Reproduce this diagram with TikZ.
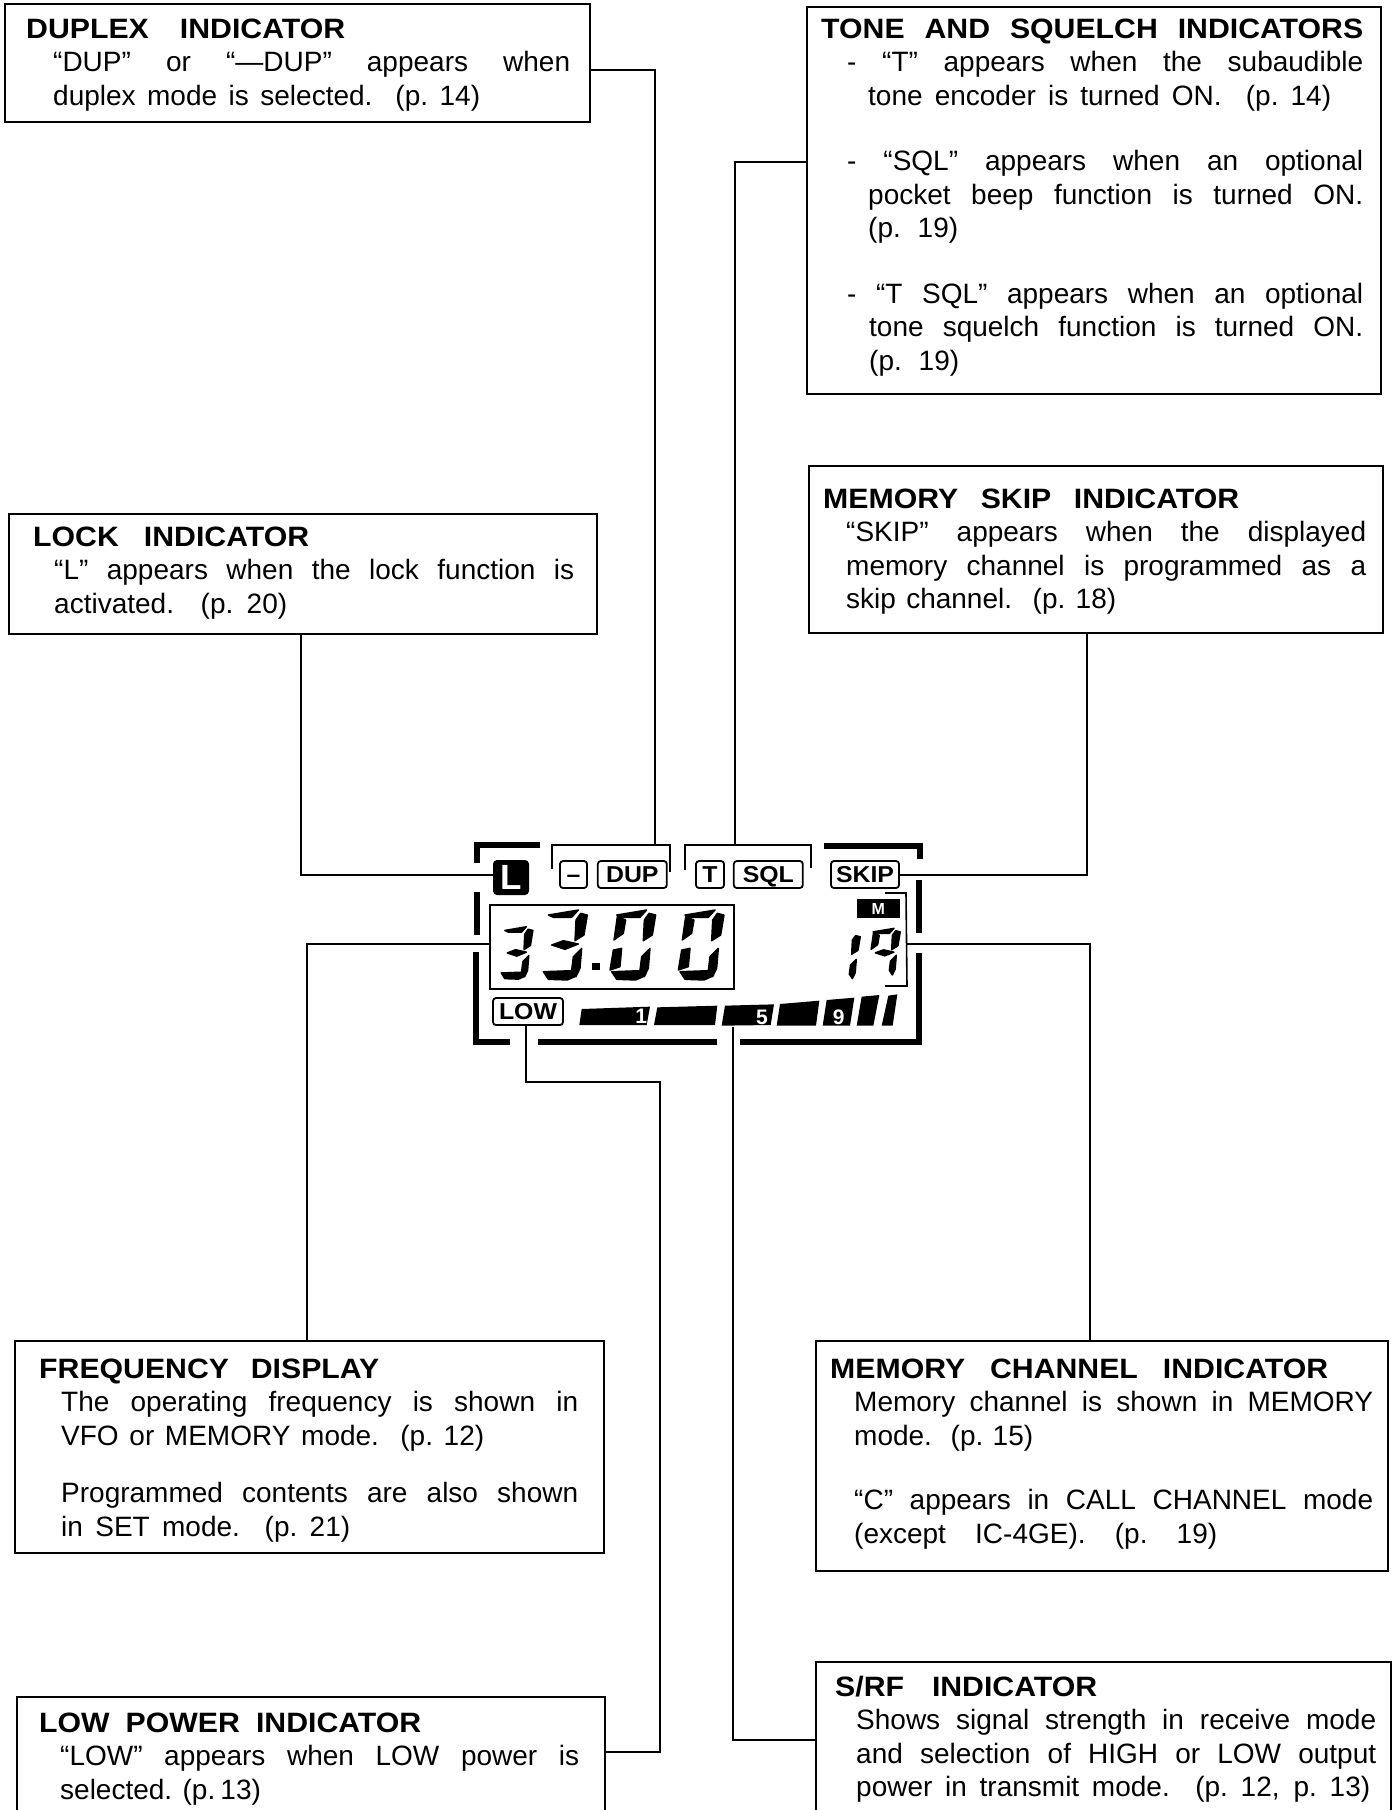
\documentclass[tikz,border=0pt]{standalone}
\usepackage{fontspec}
\setmainfont{Liberation Sans}
\newfontfamily\headfont[FakeStretch=1.08]{Liberation Sans}
\usetikzlibrary{positioning}
\newcommand{\pg}[1]{(p.\ #1)}
\newcommand{\tline}[3]{\hbox{\hskip\dimexpr#1pt/2\relax\makebox[\dimexpr#2pt/2\relax][s]{#3}}}
\newcommand{\headline}[3]{\tline{#1}{#2}{\headfont\bfseries #3}}
\newcommand{\gap}[1]{\vskip\dimexpr#1pt/2\relax}
\newcommand{\panelbody}[4]{\vbox to #2{\lineskiplimit=-\maxdimen
  \hbox to #1{\hfil}\vskip\dimexpr#3-\baselineskip\relax #4\vfill}}
% LCD segments of one digit
\newcommand{\segA}{\filldraw (20,15) -- (110,0) -- (90,22) -- (35,22) -- cycle;}
\newcommand{\segB}{\filldraw (117,10) -- (137,15) -- (127,75) -- (100,92) -- (103,30) -- cycle;}
\newcommand{\segC}{\filldraw (120,115) -- (115,175) -- (103,200) -- (90,180) -- (95,140) -- cycle;}
\newcommand{\segD}{\filldraw (5,185) -- (90,182) -- (100,200) -- (77,210) -- (20,208) -- cycle;}
\newcommand{\segE}{\filldraw (10,120) -- (35,115) -- (30,170) -- (0,180) -- cycle;}
\newcommand{\segF}{\filldraw (22,20) -- (47,30) -- (40,70) -- (12,90) -- cycle;}
\newcommand{\segG}{\filldraw (30,105) -- (65,92) -- (110,102) -- (70,118) -- cycle;}
\newcommand{\lcddigit}[5]{\begin{scope}[shift={(#1,#2)},xscale=#3,yscale=#4,line width=0.7pt,line join=round]
  \foreach \s in {#5} {\csname seg\s\endcsname}
  \end{scope}}
\tikzset{
  panel/.style={draw, line width=1.2pt, anchor=north west, inner sep=0pt, fill=white,
    font=\fontsize{14}{16.75}\selectfont},
  wire/.style={line width=1pt},
  frame/.style={line width=3pt},
  thinline/.style={line width=0.8pt},
  tag/.style={draw, line width=0.9pt, rounded corners=1.5pt, inner sep=0pt, minimum height=13.5pt,
    text height=8.3pt, text depth=0pt, font=\fontsize{11.5}{13}\selectfont\headfont\bfseries},
  barlabel/.style={inner sep=0pt, text=white, font=\bfseries\fontsize{10.5}{11}\selectfont},
}
\begin{document}
\begin{tikzpicture}[x=0.5pt,y=-0.5pt]
  \useasboundingbox (0,0) rectangle (1397,1810);
  \clip (0,0) rectangle (1397,1810);

  % Define nodes
  \node[panel] (duplex) at (4,3) {\panelbody{292.5pt}{59pt}{17pt}{
    \headline{21}{319}{DUPLEX INDICATOR}
    \tline{48}{517}{“DUP” or “—DUP” appears when}
    \tline{48}{427}{duplex mode is selected.\ \ \pg{14}}}};
  \node[panel] (tone) at (806,6) {\panelbody{287pt}{193.5pt}{15.5pt}{
    \headline{14}{542}{TONE AND SQUELCH INDICATORS}
    \tline{40}{516}{- “T” appears when the subaudible}
    \tline{61}{463}{tone encoder is turned ON.\ \ \pg{14}}
    \gap{32}
    \tline{40}{516}{- “SQL” appears when an optional}
    \tline{61}{495}{pocket beep function is turned ON.}
    \tline{61}{90}{\pg{19}}
    \gap{32}
    \tline{40}{516}{- “T SQL” appears when an optional}
    \tline{62}{494}{tone squelch function is turned ON.}
    \tline{62}{90}{\pg{19}}}};
  \node[panel] (skip) at (808,465) {\panelbody{287pt}{83.5pt}{21pt}{
    \headline{14}{416}{MEMORY SKIP INDICATOR}
    \tline{37}{520}{“SKIP” appears when the displayed}
    \tline{37}{520}{memory channel is programmed as a}
    \tline{37}{270}{skip channel.\ \ \pg{18}}}};
  \node[panel] (lock) at (8,513) {\panelbody{294pt}{60pt}{16pt}{
    \headline{24}{276}{LOCK INDICATOR}
    \tline{45}{520}{“L” appears when the lock function is}
    \tline{45}{233}{activated.\ \ \pg{20}}}};
  \node[panel] (freq) at (14,1340) {\panelbody{294.5pt}{106pt}{18.5pt}{
    \headline{24}{340}{FREQUENCY DISPLAY}
    \tline{46}{517}{The operating frequency is shown in}
    \tline{46}{423}{VFO or MEMORY mode.\ \ \pg{12}}
    \gap{24}
    \tline{46}{517}{Programmed contents are also shown}
    \tline{46}{289}{in SET mode.\ \ \pg{21}}}};
  \node[panel] (low) at (16,1696) {\panelbody{294pt}{70pt}{17.5pt}{
    \headline{22}{382}{LOW POWER INDICATOR}
    \tline{43}{519}{“LOW” appears when LOW power is}
    \tline{43}{196}{selected.\ \ \pg{13}}}};
  \node[panel] (mem) at (815,1340) {\panelbody{286pt}{115pt}{18.5pt}{
    \headline{14}{498}{MEMORY CHANNEL INDICATOR}
    \tline{38}{519}{Memory channel is shown in MEMORY}
    \tline{38}{179}{mode.\ \ \pg{15}}
    \gap{31}
    \tline{38}{519}{“C” appears in CALL CHANNEL mode}
    \tline{38}{363}{(except IC-4GE).\ \pg{19}}}};
  \node[panel] (srf) at (815,1661) {\panelbody{287.5pt}{85pt}{17pt}{
    \headline{19}{262}{S/RF INDICATOR}
    \tline{40}{520}{Shows signal strength in receive mode}
    \tline{40}{520}{and selection of HIGH or LOW output}
    \tline{40}{514}{power in transmit mode.\ \ (p.\ 12, p.\ 13)}}};

  % LCD tags
  \node[tag, minimum width=13.5pt] (dash) at (573.5,874.5) {–};
  \node[tag, minimum width=34.5pt, right=4.5pt of dash] (dup) {DUP};
  \node[tag, minimum width=14pt] (tee) at (710,874.5) {T};
  \node[tag, minimum width=34.5pt, right=4pt of tee] (sql) {SQL};
  \node[tag, minimum width=34pt] (skiptag) at (865,874.5) {SKIP};
  \node[tag, minimum width=35pt] (lowtag) at (528,1011.5) {LOW};
  \node[fill=black, rounded corners=2pt, minimum width=18pt, minimum height=17.5pt, inner sep=0pt,
    text=white, font=\bfseries\fontsize{17.5}{18}\selectfont] (ltag) at (511,877.5) {L};
  \node[draw, thinline, minimum width=122pt, minimum height=42pt, inner sep=0pt] (lcdfreq) at (612,947) {};

  \coordinate (dupbend) at (655,845);
  \coordinate (sqlbend) at (735,845);
  \coordinate (chantap) at (907,944);
  \coordinate (bartap) at (733,1027);
  \coordinate (lowbend) at (660,1082);

  % LCD frame and brackets
  \draw[frame] (477,863) -- (477,845) -- (540,845);
  \draw[frame] (477,892) -- (477,935);
  \draw[frame] (476,952) -- (476,1042) -- (510,1042);
  \draw[frame] (538,1042) -- (717,1042);
  \draw[frame] (740,1042) -- (919,1042) -- (919,953);
  \draw[frame] (919,933) -- (919,880);
  \draw[frame] (824,846) -- (920,846) -- (920,859);
  \draw[thinline] (552,869) -- (552,845) -- (670,845) -- (670,872);
  \draw[thinline] (685,870) -- (685,845) -- (811,845) -- (811,868);
  \draw[thinline] (885,893) -- (906,893) -- (907,986) -- (885,986);

  % LCD digits and S meter
  \begin{scope}[shift={(450,820)},scale=1/3]
    \lcddigit{150}{320}{.72}{.75}{A,B,C,D,G}
    \lcddigit{275}{270}{1}{1}{A,B,C,D,G}
    \lcddigit{480}{270}{1}{1}{A,B,C,D,E,F}
    \lcddigit{685}{270}{1}{1}{A,B,C,D,E,F}
    \lcddigit{1135}{340}{.7}{.68}{B,C}
    \lcddigit{1255}{325}{.7}{.7}{A,B,C,F,G}
    \fill (425,428) rectangle (450,450);
    \fill (395,567) -- (600,560) -- (590,615) -- (388,615) -- cycle;
    \fill (622,562) -- (802,557) -- (795,615) -- (612,615) -- cycle;
    \fill (825,557) -- (972,553) -- (962,615) -- (815,617) -- cycle;
    \fill (990,552) -- (1108,542) -- (1098,617) -- (980,617) -- cycle;
    \fill (1130,540) -- (1213,533) -- (1200,617) -- (1118,617) -- cycle;
    \fill (1235,530) -- (1288,525) -- (1270,617) -- (1220,617) -- cycle;
    \fill (1315,527) -- (1342,523) -- (1328,617) -- (1295,617) -- cycle;
    \node[barlabel] (bar1) at (574,590) {1};
    \node[barlabel] (bar5) at (936,592) {5};
    \node[barlabel] (bar9) at (1166,592) {9};
    \node[fill=black, text=white, minimum width=21.5pt, minimum height=9.5pt, inner sep=0pt,
      font=\bfseries\fontsize{8}{8}\selectfont] (mtag) at (1285,266) {M};
  \end{scope}

  % Connect the nodes
  \draw[wire] ([yshift=-3.5pt]duplex.east) -| (dupbend);
  \draw[wire] ([yshift=19.25pt]tone.west) -| (sqlbend);
  \draw[wire] ([xshift=-1pt]lock.south) |- ([yshift=1.5pt]ltag.west);
  \draw[wire] ([xshift=-4.5pt]skip.south) |- (skiptag.east);
  \draw[wire] ([xshift=-1.5pt]freq.north) |- ([yshift=1.5pt]lcdfreq.west);
  \draw[wire] ([xshift=-6pt]mem.north) |- (chantap);
  \draw[wire] ([xshift=-1pt]lowtag.south) |- (lowbend) |- ([yshift=-28pt]low.north east);
  \draw[wire] (bartap) |- ([yshift=-39.5pt]srf.north west);
\end{tikzpicture}
\end{document}
